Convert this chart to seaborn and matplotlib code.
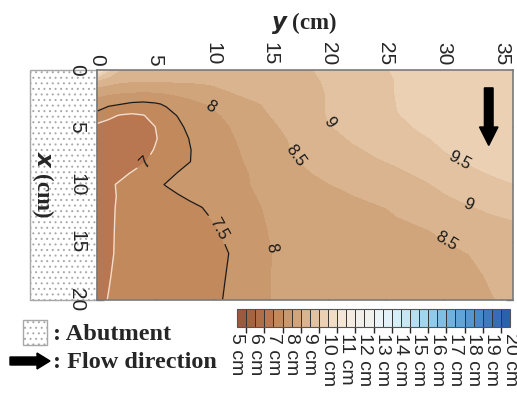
import numpy as np
import matplotlib
matplotlib.use("Agg")
import matplotlib.pyplot as plt
from matplotlib.colors import ListedColormap, BoundaryNorm
from matplotlib.cm import ScalarMappable
from matplotlib.patches import Rectangle, FancyArrow
import seaborn as sns

# ---- measured water depth (cm) on the survey grid ----
# y: across the channel from the abutment face, x: along the flow
y_cm = [0, 1, 2, 3, 4, 5, 6, 7, 8, 9, 10, 12, 14, 16, 18, 20, 22, 24, 26, 28, 30, 32, 34, 36]
x_cm = [0, 1, 2, 3, 4, 5, 6, 7, 8, 9, 10, 11, 12, 14, 16, 18, 20]

depth_x0 = [10.8, 9.6, 9.0, 8.75, 8.7, 8.7, 8.7, 8.7, 8.7, 8.72, 8.75, 8.8, 8.85, 8.9, 8.97, 9.05, 9.2, 9.4, 9.55, 9.62, 9.68, 9.73, 9.77, 9.8]
depth_x1 = [8.9, 8.7, 8.58, 8.53, 8.51, 8.51, 8.52, 8.55, 8.56, 8.57, 8.6, 8.6, 8.7, 8.8, 8.93, 9.03, 9.15, 9.33, 9.52, 9.6, 9.66, 9.71, 9.75, 9.78]
depth_x2 = [8.15, 8.08, 8.02, 7.98, 7.97, 7.98, 8.03, 8.1, 8.15, 8.22, 8.32, 8.52, 8.62, 8.7, 8.87, 9.02, 9.12, 9.28, 9.53, 9.58, 9.63, 9.68, 9.72, 9.75]
depth_x3 = [7.75, 7.6, 7.52, 7.43, 7.4, 7.45, 7.55, 7.7, 7.85, 7.96, 8.05, 8.3, 8.48, 8.65, 8.82, 9.02, 9.1, 9.22, 9.51, 9.56, 9.6, 9.65, 9.7, 9.73]
depth_x4 = [7.35, 7.1, 6.97, 6.92, 6.98, 7.15, 7.35, 7.52, 7.65, 7.78, 7.9, 8.15, 8.4, 8.6, 8.8, 9.02, 9.08, 9.2, 9.49, 9.55, 9.58, 9.62, 9.66, 9.7]
depth_x5 = [6.85, 6.82, 6.8, 6.8, 6.85, 6.99, 7.2, 7.4, 7.6, 7.72, 7.82, 8.05, 8.3, 8.52, 8.75, 8.97, 9.1, 9.2, 9.4, 9.54, 9.58, 9.62, 9.65, 9.68]
depth_x6 = [6.75, 6.75, 6.75, 6.75, 6.8, 6.96, 7.15, 7.35, 7.51, 7.65, 7.78, 8.0, 8.22, 8.45, 8.65, 8.85, 9.03, 9.15, 9.3, 9.45, 9.56, 9.6, 9.63, 9.66]
depth_x7 = [6.75, 6.75, 6.75, 6.78, 6.87, 7.02, 7.18, 7.35, 7.48, 7.62, 7.75, 7.95, 8.2, 8.42, 8.62, 8.8, 8.93, 9.05, 9.2, 9.35, 9.5, 9.58, 9.61, 9.64]
depth_x8 = [6.78, 6.78, 6.78, 6.82, 6.96, 7.12, 7.25, 7.38, 7.49, 7.6, 7.72, 7.93, 8.12, 8.35, 8.54, 8.72, 8.85, 8.95, 9.05, 9.22, 9.4, 9.53, 9.58, 9.61]
depth_x9 = [6.82, 6.85, 6.9, 7.02, 7.15, 7.28, 7.4, 7.51, 7.6, 7.68, 7.75, 7.9, 8.07, 8.28, 8.45, 8.6, 8.73, 8.83, 8.93, 9.05, 9.2, 9.36, 9.52, 9.57]
depth_x10 = [6.86, 6.93, 7.05, 7.18, 7.3, 7.42, 7.52, 7.6, 7.67, 7.74, 7.8, 7.96, 8.02, 8.22, 8.36, 8.48, 8.6, 8.7, 8.8, 8.93, 9.07, 9.2, 9.35, 9.49]
depth_x11 = [6.9, 6.96, 7.02, 7.14, 7.24, 7.32, 7.4, 7.48, 7.55, 7.65, 7.74, 7.88, 8.01, 8.14, 8.26, 8.38, 8.48, 8.58, 8.7, 8.82, 8.97, 9.08, 9.2, 9.3]
depth_x12 = [6.9, 6.96, 7.03, 7.12, 7.2, 7.27, 7.33, 7.38, 7.43, 7.49, 7.58, 7.8, 7.98, 8.1, 8.2, 8.3, 8.38, 8.45, 8.55, 8.68, 8.8, 8.96, 9.06, 9.12]
depth_x14 = [6.85, 6.95, 7.05, 7.12, 7.18, 7.22, 7.25, 7.28, 7.32, 7.37, 7.44, 7.65, 7.93, 8.1, 8.18, 8.25, 8.3, 8.35, 8.42, 8.46, 8.55, 8.72, 8.82, 8.9]
depth_x16 = [6.85, 6.95, 7.06, 7.12, 7.16, 7.19, 7.2, 7.22, 7.26, 7.3, 7.36, 7.56, 7.88, 8.08, 8.15, 8.2, 8.24, 8.28, 8.32, 8.37, 8.43, 8.49, 8.6, 8.7]
depth_x18 = [6.88, 6.98, 7.08, 7.14, 7.17, 7.2, 7.22, 7.24, 7.27, 7.31, 7.37, 7.6, 7.9, 8.08, 8.14, 8.18, 8.22, 8.25, 8.28, 8.32, 8.37, 8.43, 8.52, 8.62]
depth_x20 = [6.92, 7.01, 7.1, 7.15, 7.18, 7.21, 7.23, 7.25, 7.28, 7.33, 7.4, 7.63, 7.92, 8.07, 8.12, 8.16, 8.2, 8.23, 8.26, 8.3, 8.35, 8.41, 8.48, 8.56]

# labelled isolines and where their labels sit (y, x)
line_levels = [7, 7.5, 8, 8.5, 9, 9.5]
label_spots = [(4.0, 7.9), (10.3, 14.0), (9.65, 3.5), (14.9, 15.5),
               (17.0, 7.7), (30.3, 14.8), (19.8, 4.8), (32.0, 12.0), (31.4, 7.9)]

# colour scale: 5-20 cm in 0.5 cm classes, brown -> white -> blue
class_colors = [
    "#9c5a3c", "#a6633f", "#b06e48", "#b87750", "#c2895d", "#c9986c",
    "#d1a57b", "#dab48e", "#e2c2a1", "#ebd0b4", "#f1dcc6", "#f4e5d6",
    "#f4ebe2", "#f2efea", "#f1f1ee", "#ebf4f6", "#e2f2f8", "#d5eef7",
    "#c6e8f5", "#b5e0f2", "#a3d6ee", "#90cbea", "#7fbfe5", "#6fb2df",
    "#61a4d8", "#5596d0", "#4a88c8", "#3f7ac0", "#356db8", "#2b5fb0",
]
bar_ticks = list(range(5, 21))
bar_labels = [f"{v} cm" for v in bar_ticks]

sns.set_theme(style="ticks")
plt.rcParams["font.family"] = ["Liberation Sans", "DejaVu Sans"]
plt.rcParams["hatch.linewidth"] = 0.7

depth = np.array([depth_x0, depth_x1, depth_x2, depth_x3, depth_x4, depth_x5,
                  depth_x6, depth_x7, depth_x8, depth_x9, depth_x10, depth_x11,
                  depth_x12, depth_x14, depth_x16, depth_x18, depth_x20])

bounds = np.arange(5, 20.01, 0.5)
cmap = ListedColormap(class_colors)
norm = BoundaryNorm(bounds, cmap.N)

W, H = 517, 403
fig = plt.figure(figsize=(W / 100, H / 100), dpi=100)
ax = fig.add_axes([97 / W, 1 - 299.5 / H, 416 / W, 230 / H])

ax.contourf(y_cm, x_cm, depth, levels=bounds, cmap=cmap, norm=norm)
lines = ax.contour(y_cm, x_cm, depth, levels=line_levels,
                   colors=["#f3dccb", "#1a1a1a", "k", "k", "k", "k"],
                   linewidths=[1.0, 0.9, 0, 0, 0, 0])
ax.set_xlim(0, 36)
ax.set_ylim(20, 0)
ax.clabel(lines, line_levels, manual=label_spots, inline=True, fontsize=12,
          colors="k", fmt=lambda v: f"{v:g}")

# axes furniture: y on top, x down the left side
ax.xaxis.tick_top()
ax.set_xticks(range(0, 36, 5))
ax.set_yticks(range(0, 21, 5))
ax.tick_params(direction="in", top=True, bottom=True, left=True, right=True,
               labeltop=True, labelbottom=False, labelleft=True, labelright=False,
               length=5, width=1, color="#707070", labelsize=15)
ax.tick_params(axis="x", pad=3)
ax.tick_params(axis="y", pad=8)
for t in ax.get_xticklabels():
    t.set_rotation(270)
    t.set_va("bottom")
    t.set_ha("center")
for t in ax.get_yticklabels():
    t.set_rotation(270)
    t.set_va("center")
    t.set_ha("right")
for s in ax.spines.values():
    s.set_color("#7a7a7a")
    s.set_linewidth(1.2)

fig.text(304 / W, 1 - 23 / H, r"$\boldsymbol{y}$ (cm)", family="Liberation Serif",
         weight="bold", fontsize=16.5, ha="center", va="center")
fig.text(43 / W, 1 - 184 / H, r"$\boldsymbol{x}$ (cm)", family="Liberation Serif",
         weight="bold", fontsize=16.5, ha="center", va="center", rotation=270)

# abutment block beside the channel
ax.add_patch(Rectangle((-5.8, 0), 5.8, 20, facecolor="white", edgecolor="#a8a8a8",
                       hatch="...", lw=1.0, clip_on=False, zorder=0.5))

# flow direction arrow
ax.add_patch(FancyArrow(33.9, 1.6, 0, 5.0, width=0.75, head_width=1.6,
                        head_length=1.6, length_includes_head=True,
                        color="black", zorder=5))

# colour bar
cax = fig.add_axes([237 / W, 1 - 327 / H, 273 / W, 18 / H])
cb = fig.colorbar(ScalarMappable(norm=norm, cmap=cmap), cax=cax,
                  orientation="horizontal", drawedges=True, ticks=bar_ticks)
cb.outline.set_edgecolor("#555555")
cb.outline.set_linewidth(0.8)
cb.dividers.set_color("#333333")
cb.dividers.set_linewidth(0.7)
cax.tick_params(length=0, pad=4)
cax.set_xticklabels(bar_labels, rotation=270, fontsize=14, va="top", ha="center")

# legend entries
fig.add_artist(Rectangle((23 / W, 1 - 345 / H), 24 / W, 25 / H, facecolor="white",
                         edgecolor="#a8a8a8", hatch="...", lw=1.0,
                         transform=fig.transFigure))
fig.text(53 / W, 1 - 334 / H, ": Abutment", family="Liberation Serif",
         weight="bold", fontsize=17.5, ha="left", va="center")
fig.add_artist(FancyArrow(10 / W, 1 - 361 / H, 40 / W, 0, width=8 / H,
                          head_width=16 / H, head_length=13 / W,
                          length_includes_head=True, color="black",
                          transform=fig.transFigure))
fig.text(53 / W, 1 - 362 / H, ": Flow direction", family="Liberation Serif",
         weight="bold", fontsize=17.5, ha="left", va="center")

fig.savefig("out.png", dpi=100)
